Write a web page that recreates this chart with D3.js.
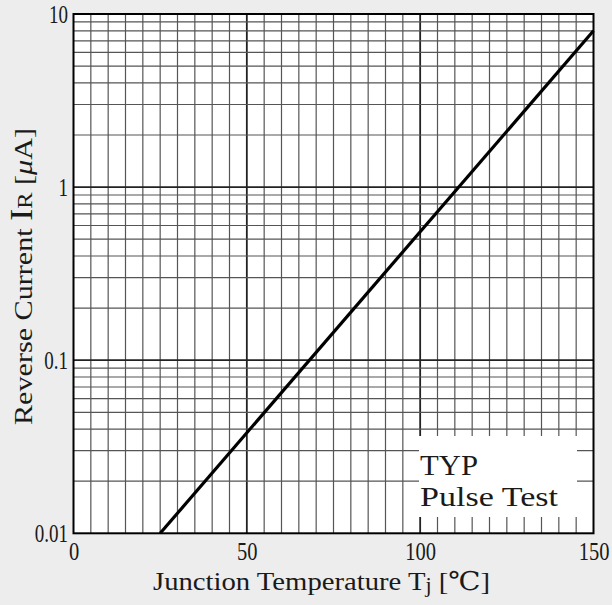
<!DOCTYPE html>
<html>
<head>
<meta charset="utf-8">
<script src="https://cdn.jsdelivr.net/npm/d3@7"></script>
<style>
  html, body { margin: 0; padding: 0; background: #ededed; }
  svg { display: block; }
  text { font-family: "Liberation Serif", "DejaVu Serif", serif; fill: #1a1a1a; }
</style>
</head>
<body>
<svg id="chart" width="612" height="605"></svg>
<script>
// Typical reverse current vs. junction temperature
const xTickValues = [0, 50, 100, 150];
const xTickLabels = ["0", "50", "100", "150"];
const yTickValues = [0.01, 0.1, 1, 10];
const yTickLabels = ["0.01", "0.1", "1", "10"];
const tempC = [25, 150];
const irMicroA = [0.01, 8];

const plot = { left: 73.5, right: 593.5, top: 14, bottom: 533.3 };

const svg = d3.select("#chart");

const x = d3.scaleLinear().domain([0, 150]).range([plot.left, plot.right]);
const y = d3.scaleLog().domain([0.01, 10]).range([plot.bottom, plot.top]);

// plot background
svg.append("rect")
  .attr("x", plot.left).attr("y", plot.top)
  .attr("width", plot.right - plot.left).attr("height", plot.bottom - plot.top)
  .attr("fill", "#ffffff");

// grid: every 5 °C vertically, 1-2-...-9 per decade horizontally
const xGrid = d3.range(5, 150, 5);
const yGrid = [];
for (let d = -2; d < 1; d++) {
  for (let m = 1; m <= 9; m++) {
    const v = m * Math.pow(10, d);
    if (v > 0.01 && v < 10) yGrid.push(v);
  }
}
const isDecade = v => Math.abs(Math.log10(v) - Math.round(Math.log10(v))) < 1e-9;
const g = svg.append("g");
g.selectAll("line.vx").data(xGrid).join("line")
  .attr("x1", d => x(d)).attr("x2", d => x(d))
  .attr("y1", plot.top).attr("y2", plot.bottom)
  .attr("stroke", d => d % 50 === 0 ? "#222" : "#555")
  .attr("stroke-width", d => d % 50 === 0 ? 1.8 : 1.2);
g.selectAll("line.hy").data(yGrid).join("line")
  .attr("x1", plot.left).attr("x2", plot.right)
  .attr("y1", d => y(d)).attr("y2", d => y(d))
  .attr("stroke", d => isDecade(d) ? "#222" : "#555")
  .attr("stroke-width", d => isDecade(d) ? 1.8 : 1.2);

// legend panel
svg.append("rect")
  .attr("x", 419).attr("y", 436).attr("width", 158).attr("height", 81)
  .attr("fill", "#ffffff");

// characteristic line
const line = d3.line().x(d => x(d[0])).y(d => y(d[1]));
svg.append("path")
  .datum(tempC.map((t, i) => [t, irMicroA[i]]))
  .attr("d", line)
  .attr("fill", "none").attr("stroke", "#000").attr("stroke-width", 3.2);

// frame
svg.append("rect")
  .attr("x", plot.left).attr("y", plot.top)
  .attr("width", plot.right - plot.left).attr("height", plot.bottom - plot.top)
  .attr("fill", "none").attr("stroke", "#000").attr("stroke-width", 2);

// narrow the numerals a little
function condense(sel, k) {
  sel.each(function () {
    const len = this.getComputedTextLength();
    d3.select(this).attr("textLength", len * k).attr("lengthAdjust", "spacingAndGlyphs");
  });
}
const xAxis = svg.append("g")
  .attr("transform", `translate(0,${plot.bottom})`)
  .call(d3.axisBottom(x).tickValues(xTickValues).tickFormat((d, i) => xTickLabels[i]).tickSize(0).tickPadding(9));
xAxis.select(".domain").remove();
xAxis.selectAll("text").attr("font-size", 25).attr("font-family", null).attr("fill", "#1a1a1a");
condense(xAxis.selectAll("text"), 0.82);

const yAxis = svg.append("g")
  .attr("transform", `translate(${plot.left},0)`)
  .call(d3.axisLeft(y).tickValues(yTickValues).tickFormat((d, i) => yTickLabels[i]).tickSize(0).tickPadding(5.5));
yAxis.select(".domain").remove();
yAxis.selectAll("text").attr("font-size", 25).attr("font-family", null).attr("fill", "#1a1a1a");
condense(yAxis.selectAll("text"), 0.76);

// axis titles
const xt = svg.append("text")
  .attr("x", 321.5).attr("y", 590)
  .attr("text-anchor", "middle").attr("font-size", 26)
  .attr("textLength", 337).attr("lengthAdjust", "spacingAndGlyphs");
xt.append("tspan").text("Junction Temperature T");
xt.append("tspan").attr("font-size", 20).attr("dy", 2).text("j");
xt.append("tspan").attr("dy", -2).text(" [℃]");

const yt = svg.append("text")
  .attr("transform", "translate(32,276.5) rotate(-90)")
  .attr("text-anchor", "middle").attr("font-size", 26)
  .attr("textLength", 297).attr("lengthAdjust", "spacingAndGlyphs");
yt.append("tspan").text("Reverse Current ");
yt.append("tspan").attr("font-size", 31).text("I");
yt.append("tspan").attr("font-size", 21).text("R");
yt.append("tspan").text(" [");
yt.append("tspan").attr("font-style", "italic").text("μ");
yt.append("tspan").text("A]");

// legend text
svg.append("text").attr("x", 420).attr("y", 475).attr("font-size", 29)
  .attr("textLength", 58).attr("lengthAdjust", "spacingAndGlyphs").text("TYP");
svg.append("text").attr("x", 420).attr("y", 506).attr("font-size", 27)
  .attr("textLength", 138).attr("lengthAdjust", "spacingAndGlyphs").text("Pulse Test");
</script>
</body>
</html>
